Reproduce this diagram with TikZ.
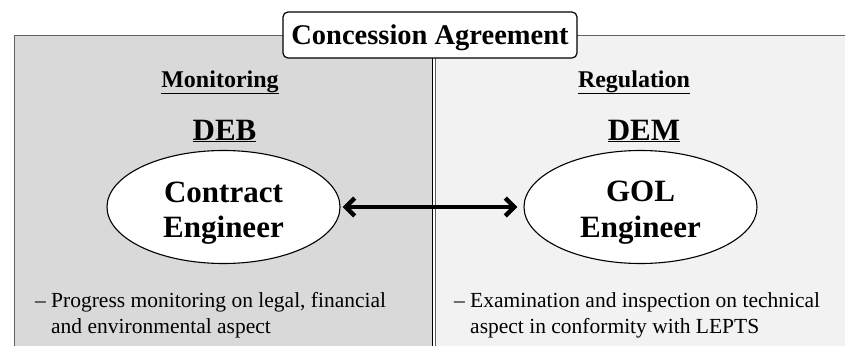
\documentclass[tikz,border=0pt]{standalone}
\usepackage{fontspec}
\setmainfont{Liberation Serif}
\usetikzlibrary{shapes.geometric,arrows.meta}
\definecolor{panelL}{HTML}{D9D9D9}
\definecolor{panelR}{HTML}{F2F2F2}
\definecolor{edgegray}{HTML}{606060}
\tikzset{
  head/.style={font=\bfseries\fontsize{24}{28}\selectfont, inner sep=0pt, anchor=base},
  org/.style={font=\bfseries\fontsize{31}{35}\selectfont, inner sep=0pt, anchor=base},
  eng/.style={ellipse, draw=black, line width=1.1pt, fill=white, minimum width=233pt, minimum height=113pt, inner sep=0pt},
  engtext/.style={font=\bfseries\fontsize{31}{35}\selectfont, inner sep=0pt, anchor=base},
  body/.style={font=\fontsize{21.5}{26}\selectfont, inner sep=0pt, anchor=base west},
}
\begin{document}
\begin{tikzpicture}[x=1pt,y=-1pt]
\useasboundingbox (0,0) rectangle (845,345);
% panels
\fill[panelL] (14,36) rectangle (432,350);
\fill[panelR] (435,36) rectangle (850,350);
\draw[edgegray, line width=1pt] (14,350) -- (14,36) -- (850,36);
\draw[black, line width=1pt] (432,36) -- (432,350);
\draw[edgegray, line width=1pt] (435,36) -- (435,350);
% title
\node[draw=black, line width=1.2pt, rounded corners=5pt, fill=white, minimum width=294pt, minimum height=46pt, inner sep=0pt] (ca) at (430,35) {};
\node[head, font=\bfseries\fontsize{28.5}{32}\selectfont] (catext) at (430,45) {Concession Agreement};
% headings
\node[head] (mon) at (220,87) {\underline{Monitoring}};
\node[head] (reg) at (634,87) {\underline{Regulation}};
\node[org] (deb) at (224.5,140) {\underline{DEB}};
\node[org] (dem) at (644,140) {\underline{DEM}};
% ellipses
\node[eng] (ce) at (223.5,207) {};
\node[eng] (ge) at (640.5,207) {};
\node[engtext] (ce1) at (223.5,202) {Contract};
\node[engtext] (ce2) at (223.5,237) {Engineer};
\node[engtext] (ge1) at (640.5,201) {GOL};
\node[engtext] (ge2) at (640.5,237) {Engineer};
% arrow
\draw[line width=4.5pt, {Straight Barb[length=9pt,width=18pt]}-{Straight Barb[length=9pt,width=18pt]}, shorten <=2pt, shorten >=6pt] (ce.east) -- (ge.west);
% body text
\node[body] (l1) at (51,307) {\llap{– }Progress monitoring on legal, financial};
\node[body] (l2) at (51,333) {and environmental aspect};
\node[body] (r1) at (470,307) {\llap{– }Examination and inspection on technical};
\node[body] (r2) at (470,333) {aspect in conformity with LEPTS};
\end{tikzpicture}
\end{document}
